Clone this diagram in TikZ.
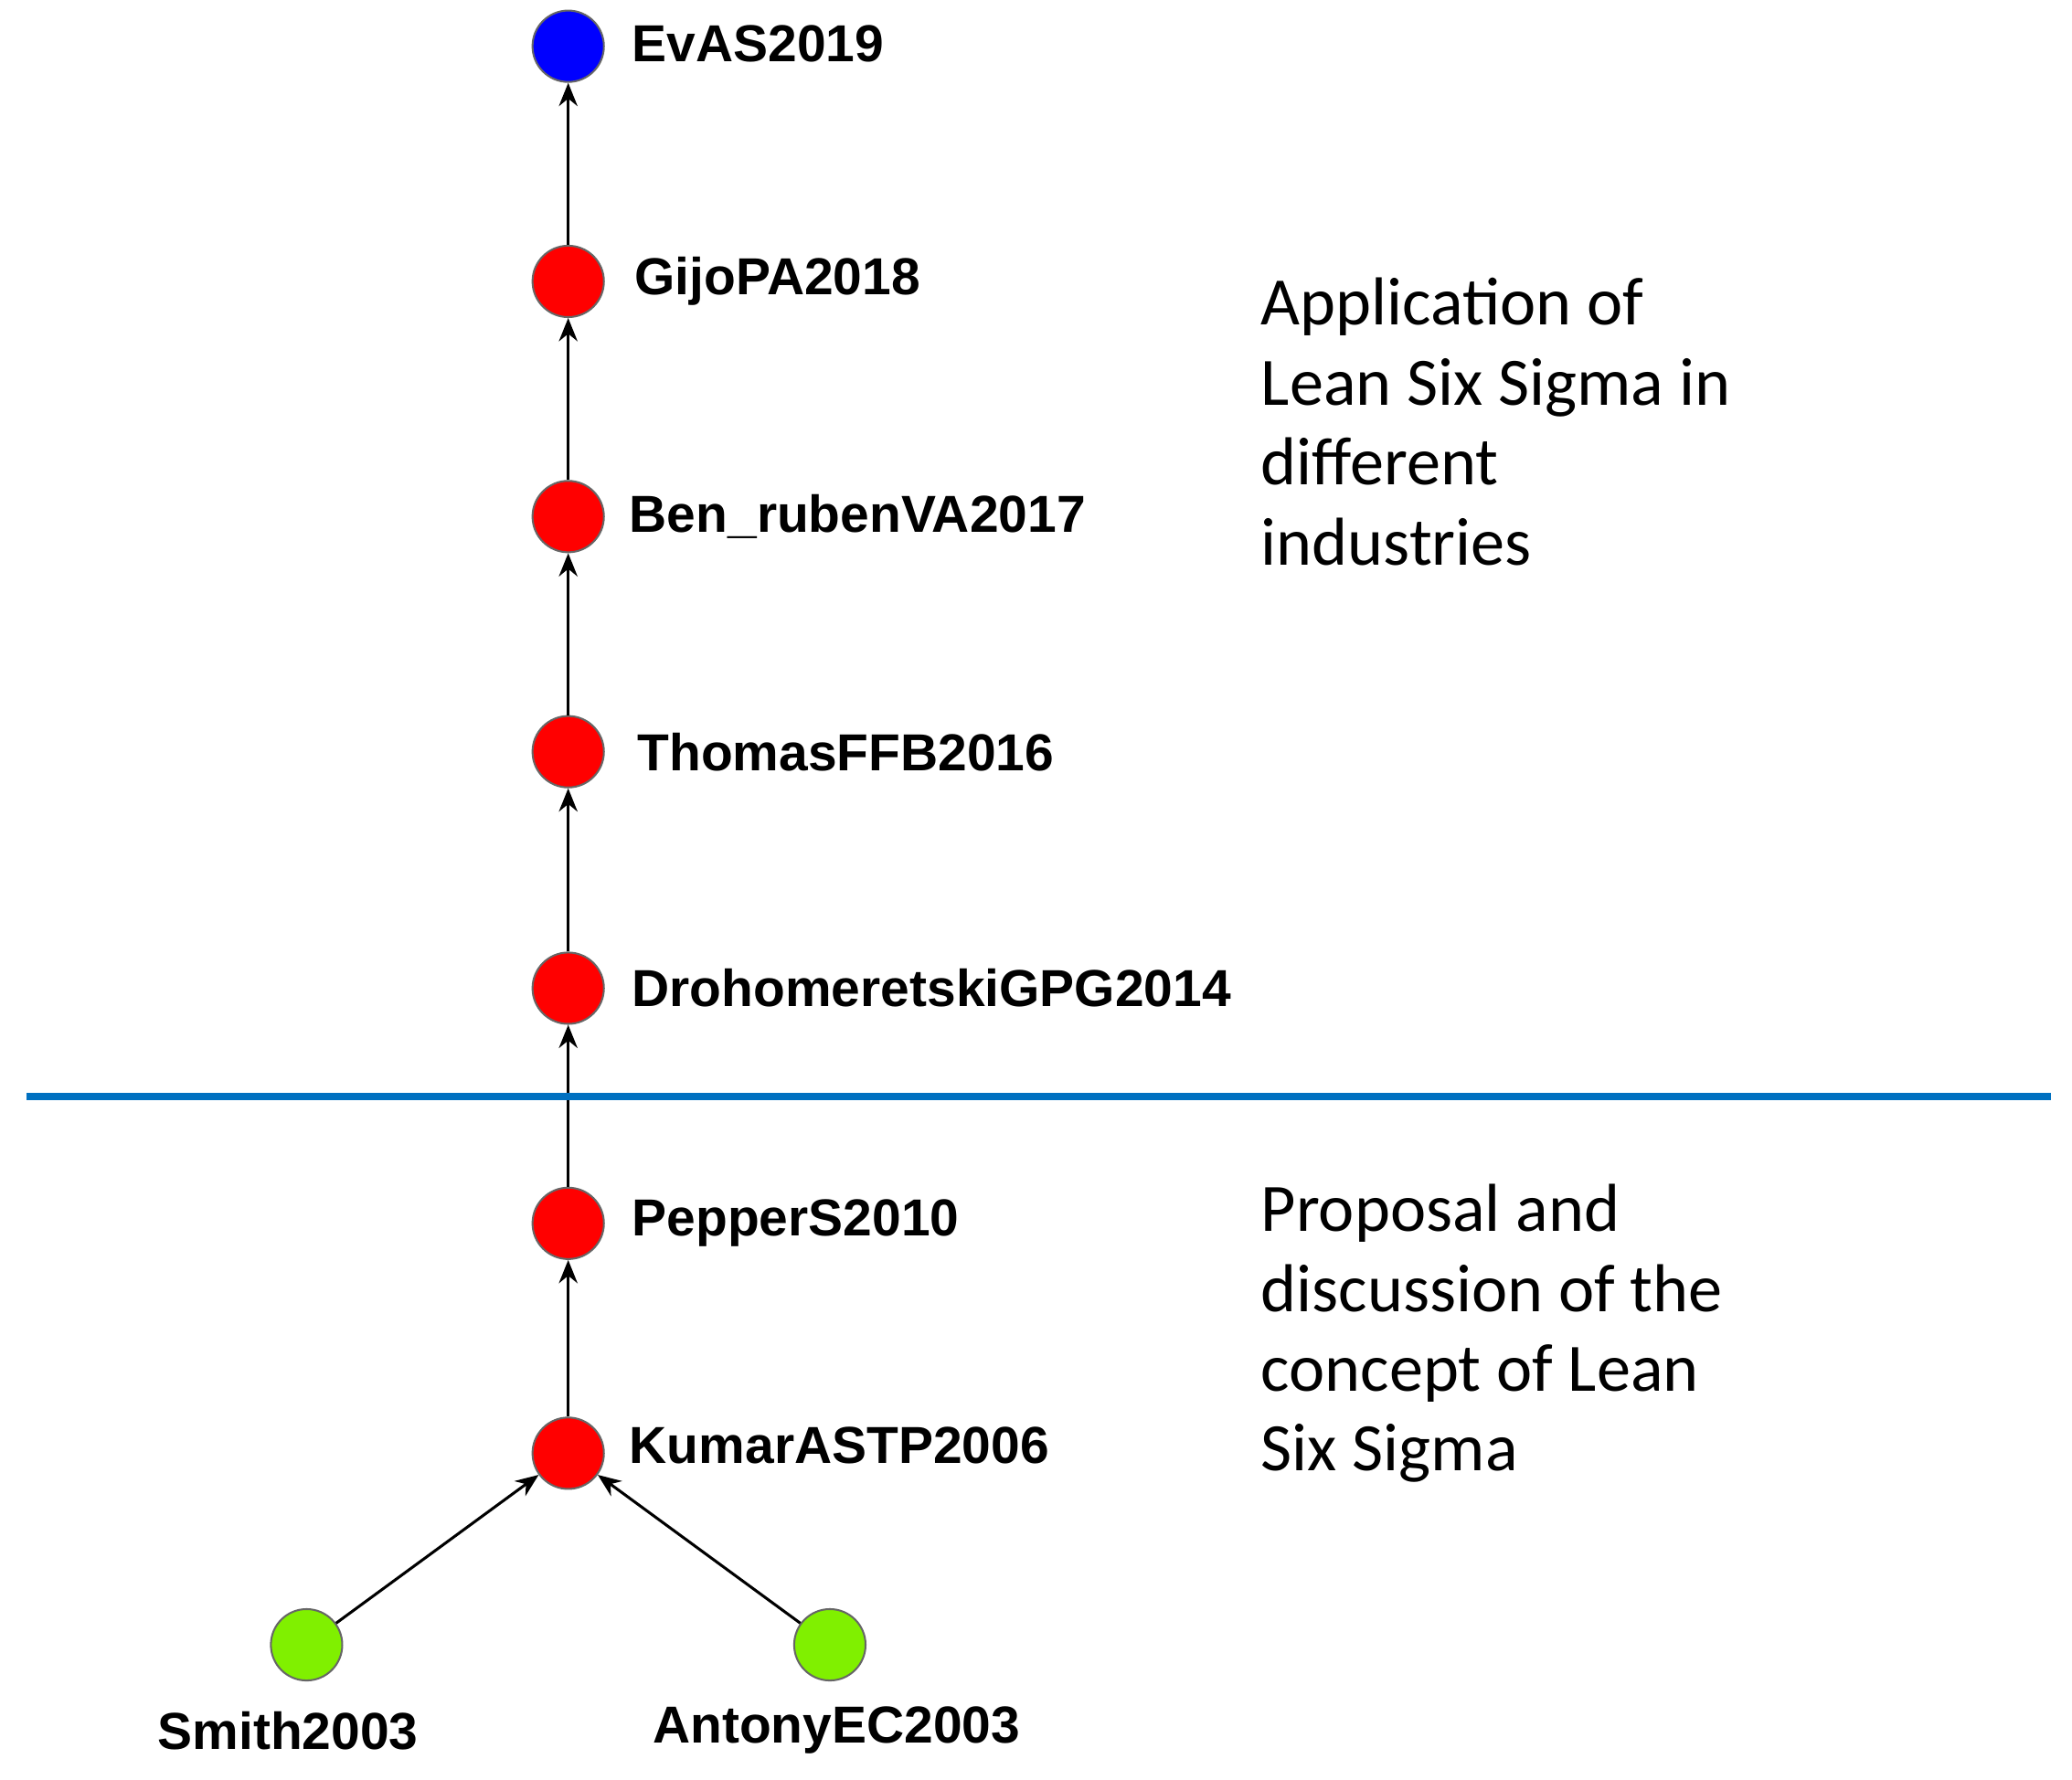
\documentclass[tikz,border=0pt]{standalone}
\usepackage{fontspec}
\setmainfont{Liberation Sans}
\newfontfamily\calfnt{Carlito}
\usetikzlibrary{arrows.meta}
\definecolor{lblue}{RGB}{0,112,192}
\definecolor{lgreen}{RGB}{128,240,0}
\begin{document}
\begin{tikzpicture}[x=0.01cm,y=-0.01cm,
 pt/.style={circle,draw=black!60,line width=0.4pt,minimum size=0.54cm,inner sep=0pt},
 red/.style={pt,fill=red},
 lab/.style={font=\bfseries\fontsize{11.2}{13}\selectfont,anchor=west},
 edge/.style={-{Stealth[length=5pt,width=4pt]},line width=0.6pt},
 txt/.style={font=\calfnt\fontsize{14.6}{17.2}\selectfont,align=left,anchor=north west}]
\useasboundingbox (0,0) rectangle (1568,1347);
\node[pt,fill=blue] (e) at (430,35) {};
\node[red] (g) at (430,213) {};
\node[red] (b) at (430,391) {};
\node[red] (t) at (430,569) {};
\node[red] (d) at (430,748) {};
\node[red] (p) at (430,926) {};
\node[red] (k) at (430,1100) {};
\node[pt,fill=lgreen] (s) at (232,1245) {};
\node[pt,fill=lgreen] (a) at (628,1245) {};
\node[lab] (le) at (466,33) {EvAS2019};
\node[lab] (lg) at (468,213) {GijoPA2018};
\node[lab] (lb) at (464,391) {Ben\_rubenVA2017};
\node[lab] (lt) at (470,569) {ThomasFFB2016};
\node[lab] (ld) at (466,748) {DrohomeretskiGPG2014};
\node[lab] (lp) at (466,926) {PepperS2010};
\node[lab] (lk) at (464,1094) {KumarASTP2006};
\node[font=\bfseries\fontsize{11.2}{13}\selectfont] (ls) at (218,1310) {Smith2003};
\node[font=\bfseries\fontsize{11.2}{13}\selectfont] (la) at (633,1310) {AntonyEC2003};
\draw[edge] (g)--(e); \draw[edge] (b)--(g); \draw[edge] (t)--(b);
\draw[edge] (d)--(t); \draw[edge] (p)--(d); \draw[edge] (k)--(p);
\draw[edge] (s)--(k); \draw[edge] (a)--(k);
\coordinate (l1) at (20,830); \coordinate (l2) at (1552,830);
\draw[lblue,line width=1.4pt] (l1)--(l2);
\node[txt] (t1) at (942,198) {Application of\\Lean Six Sigma in\\different\\industries};
\node[txt] (t2) at (942,884) {Proposal and\\discussion of the\\concept of Lean\\Six Sigma};
\end{tikzpicture}
\end{document}
